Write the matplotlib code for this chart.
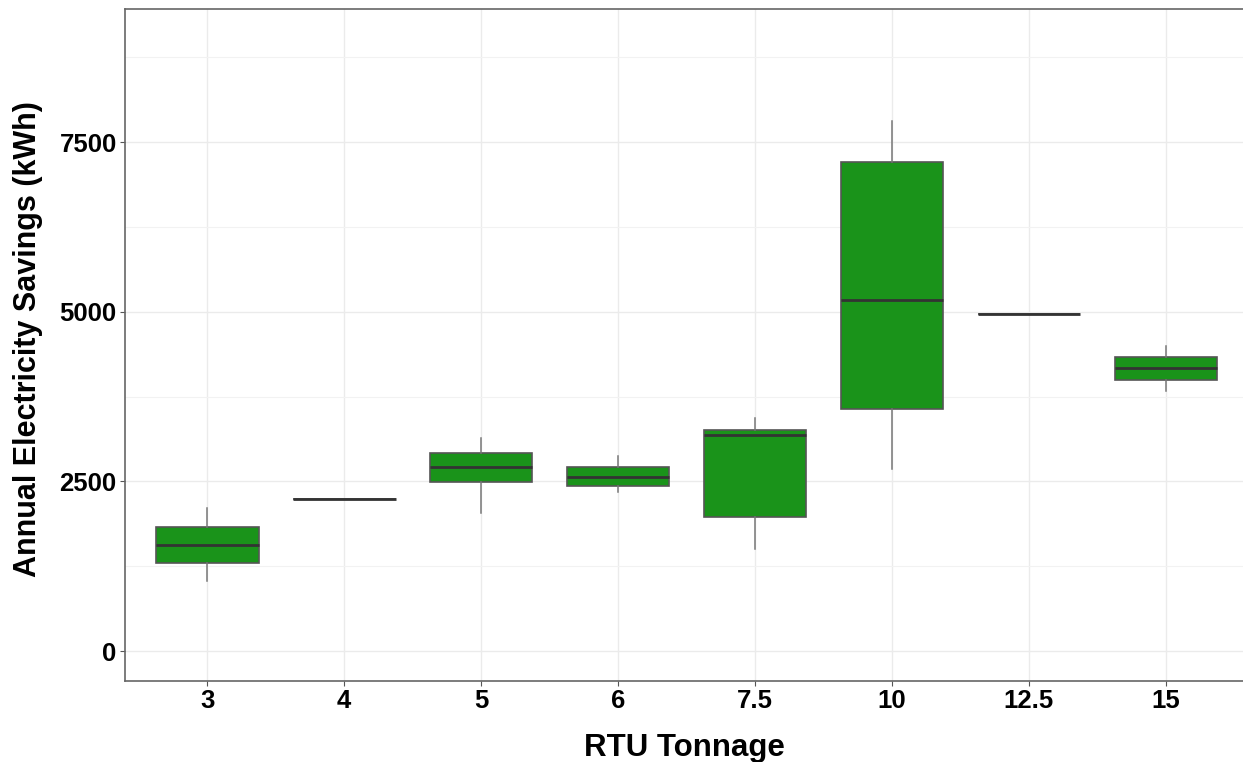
import numpy as np
import matplotlib.pyplot as plt
from matplotlib.ticker import MultipleLocator

plt.rcParams['font.family'] = ['Liberation Sans', 'DejaVu Sans']

# -----------------------
# Box statistics per RTU size (kWh)
# -----------------------
tonnage = ["3", "4", "5", "6", "7.5", "10", "12.5", "15"]
whisker_low = [1030, 2235, 2040, 2340, 1510, 2690, 4960, 3830]
q1 = [1295, 2235, 2485, 2430, 1970, 3560, 4960, 4000]
median = [1560, 2235, 2715, 2565, 3190, 5170, 4960, 4175]
q3 = [1825, 2235, 2925, 2710, 3265, 7200, 4960, 4330]
whisker_high = [2105, 2235, 3135, 2870, 3435, 7810, 4960, 4495]

stats = []
for i, lab in enumerate(tonnage):
    stats.append(dict(label=lab, whislo=whisker_low[i], q1=q1[i], med=median[i],
                      q3=q3[i], whishi=whisker_high[i], fliers=[]))

# -----------------------
# Figure
# -----------------------
fig = plt.figure(figsize=(12.43, 7.62), dpi=100)
# panel runs a little past the right edge of the canvas
ax = fig.add_axes([0.1006, 0.1063, 0.9035, 0.8819])

pos = np.arange(1, len(tonnage) + 1)
ax.bxp(stats, positions=pos, widths=0.75, patch_artist=True, showcaps=False,
       boxprops=dict(facecolor="#1a931a", edgecolor="#555555", linewidth=1.2),
       medianprops=dict(color="#333333", linewidth=2.0),
       whiskerprops=dict(color="#777777", linewidth=1.1),
       zorder=3)

ax.set_xlim(0.4, 8.6)
ax.set_ylim(-440, 9460)
ax.yaxis.set_major_locator(MultipleLocator(2500))
ax.yaxis.set_minor_locator(MultipleLocator(1250))
ax.set_xticks(pos)
ax.set_xticklabels(tonnage)

# grid
ax.set_axisbelow(True)
ax.grid(which="major", color="#ebebeb", linewidth=1.0)
ax.grid(which="minor", axis="y", color="#f2f2f2", linewidth=0.8)
ax.tick_params(which="minor", length=0)
ax.tick_params(which="major", length=3.5, width=0.8, color="#555555",
               labelsize=18.5, pad=2.5)
for lbl in ax.get_xticklabels() + ax.get_yticklabels():
    lbl.set_fontweight("bold")
    lbl.set_color("black")

for side in ["top", "right", "left", "bottom"]:
    ax.spines[side].set_color("#666666")
    ax.spines[side].set_linewidth(1.2)

fig.text(0.0225, 0.555, "Annual Electricity Savings (kWh)", rotation=90,
         ha="center", va="center", fontsize=22, fontweight="bold")
fig.text(0.551, 0.008, "RTU Tonnage", ha="center", va="baseline",
         fontsize=22.5, fontweight="bold")

fig.savefig("out.png", dpi=100)
